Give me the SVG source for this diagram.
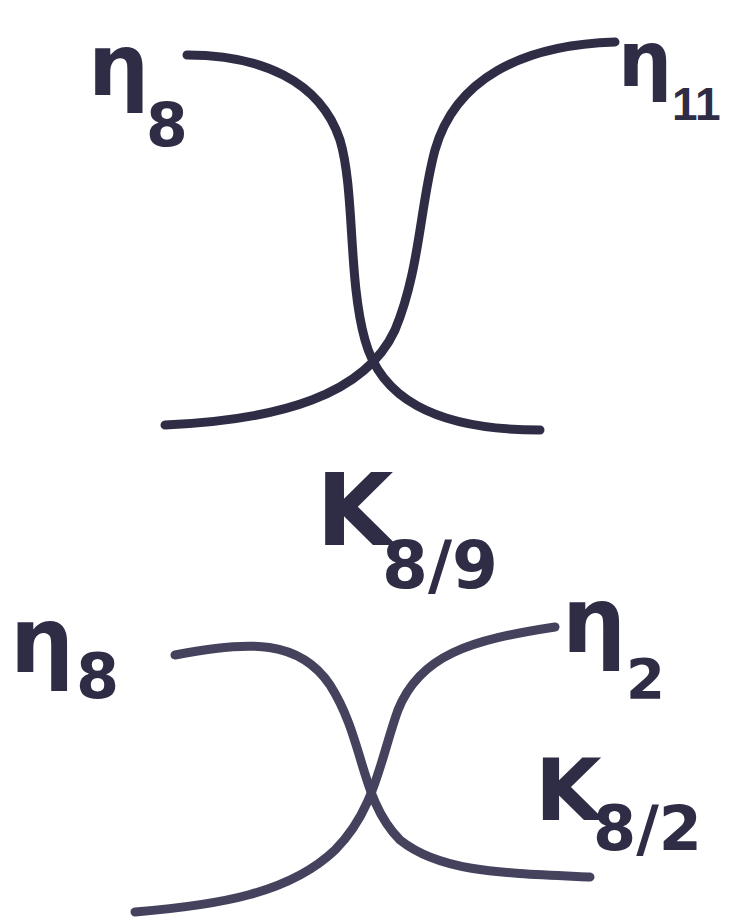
<svg xmlns="http://www.w3.org/2000/svg" width="735" height="917" viewBox="0 0 735 917">
<style>
.c{fill:none;stroke:#2f2d46;stroke-width:9;stroke-linecap:round;stroke-linejoin:round}
.c2{fill:none;stroke:#45425e;stroke-width:9;stroke-linecap:round}
.t{font-family:"DejaVu Sans","Liberation Sans",sans-serif;font-weight:bold;fill:#2f2d46}
</style>
<rect width="735" height="917" fill="#ffffff"/>
<g id="connectors">
<path class="c" d="M187,55 C260,55 320,80 340,140 C355,190 348,280 365,340 C380,395 430,430 540,430"/>
<path class="c" d="M615,42 C520,45 455,80 435,150 C420,205 420,270 395,330 C365,395 280,420 165,425"/>
<path class="c2" d="M175,655 C250,640 300,640 330,685 C365,740 360,800 400,840 C440,872 500,873 590,877"/>
<path class="c2" d="M555,627 C470,640 420,655 398,710 C380,760 375,810 335,850 C290,893 220,905 135,912"/>
</g>
<g id="eta8-top" class="t"><text x="88" y="95" font-size="86">η</text><text x="146" y="146" font-size="60">8</text></g>
<g id="eta11" class="t"><text x="618" y="86" font-size="76">η</text><text x="672" y="120" font-size="46" style="font-family:'Liberation Sans',sans-serif">11</text></g>
<g id="k89" class="t"><text x="316" y="545" font-size="100">K</text><text x="382" y="588" font-size="66">8/9</text></g>
<g id="eta8-bottom" class="t"><text x="10" y="672" font-size="90">η</text><text x="76" y="698" font-size="62">8</text></g>
<g id="eta2" class="t"><text x="562" y="652" font-size="90">η</text><text x="626" y="698" font-size="56">2</text></g>
<g id="k82" class="t"><text x="535" y="820" font-size="86">K</text><text x="593" y="850" font-size="62">8/2</text></g>
</svg>
